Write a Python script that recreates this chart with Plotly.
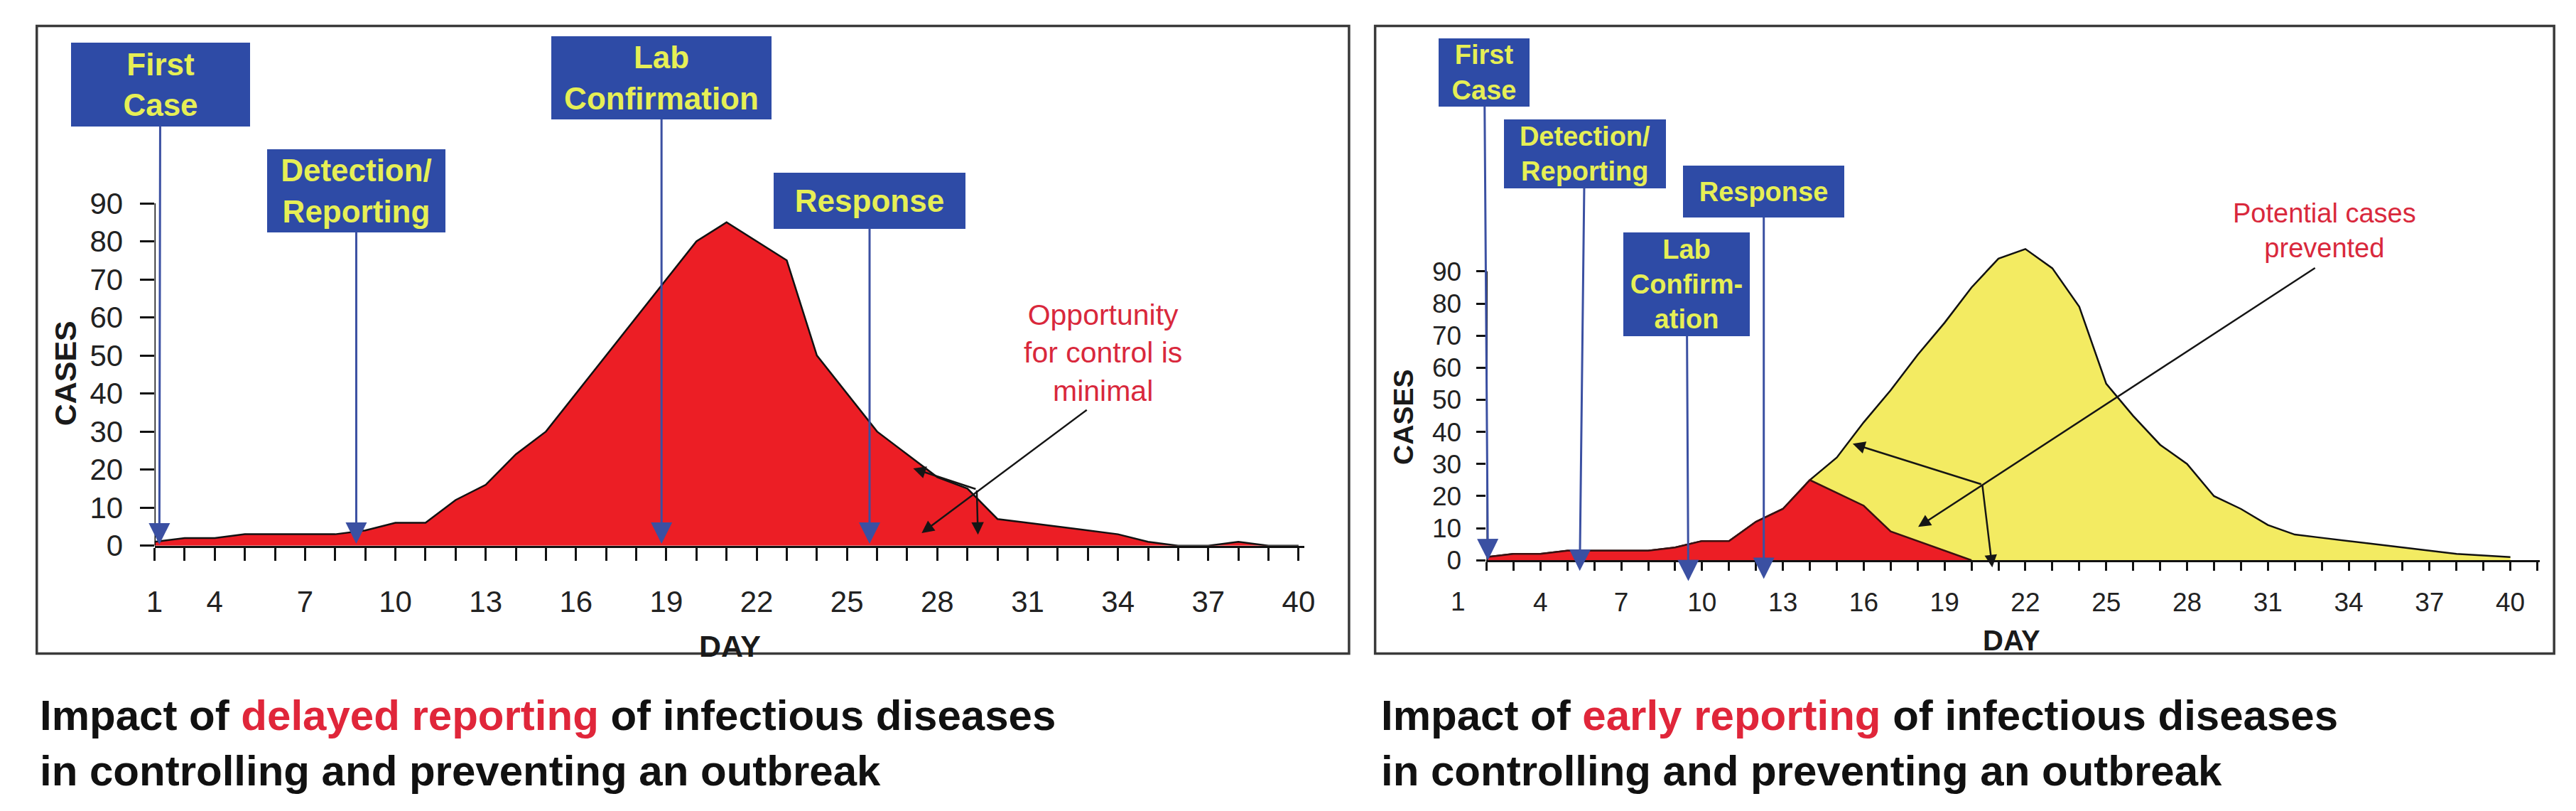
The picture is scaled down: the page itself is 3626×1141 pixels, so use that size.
import plotly.graph_objects as go

# --- data ---
# days start at the y axis (position 2); the left panel prints "1" at the origin
LEFT_DAYS = list(range(2, 41))
LEFT_CASES = [1, 2, 2, 3, 3, 3, 3, 4, 6, 6, 12, 16, 24, 30, 40, 50, 60, 70, 80, 85,
              80, 75, 50, 40, 30, 24, 18, 15, 7, 6, 5, 4, 3, 1, 0, 0, 1, 0, 0]

RIGHT_DAYS = list(range(2, 41))
POTENTIAL_CASES = [1, 2, 2, 3, 3, 3, 3, 4, 6, 6, 12, 16, 25, 32, 43, 53, 64, 74, 85, 94,
                   97, 91, 79, 55, 45, 36, 30, 20, 16, 11, 8, 7, 6, 5, 4, 3, 2, 1.5, 1]
EARLY_DAYS = list(range(2, 21))
EARLY_CASES = [1, 2, 2, 3, 3, 3, 3, 4, 6, 6, 12, 16, 25, 21, 17, 9, 6, 3, 0]

Y_TICKS = list(range(0, 100, 10))
LEFT_TICK_POS = [2] + list(range(4, 41, 3))
RIGHT_TICK_POS = list(range(4, 41, 3))
TICK_LABELS = ["1"] + [str(d) for d in range(4, 41, 3)]

LEFT_EVENTS = ["First<br>Case", "Detection/<br>Reporting", "Lab<br>Confirmation", "Response"]
LEFT_EVENT_DAYS = [2.16, 8.7, 18.84, 25.75]
RIGHT_EVENTS = ["First<br>Case", "Detection/<br>Reporting", "Lab<br>Confirm-<br>ation", "Response"]
RIGHT_EVENT_DAYS = [2.05, 5.46, 9.49, 12.29]

LEFT_NOTE = "Opportunity<br>for control is<br>minimal"
RIGHT_NOTE = "Potential cases<br>prevented"
LEFT_CAPTION = ("Impact of <span style='color:#E0263A'>delayed reporting</span> of infectious diseases"
                "<br>in controlling and preventing an outbreak")
RIGHT_CAPTION = ("Impact of <span style='color:#E0263A'>early reporting</span> of infectious diseases"
                 "<br>in controlling and preventing an outbreak")

# --- styling ---
W, H = 3626, 1141
FONT = "Liberation Sans, Arial, sans-serif"
RED = "#EC1E25"
YELLOW = "#F3EB62"
BOX_BLUE = "#2E4BA6"
BOX_TEXT = "#E6EF55"
ARROW_BLUE = "#3B50A2"
NOTE_RED = "#D9283C"


def px(x):
    return x / W


def py(y):
    return 1 - y / H


fig = go.Figure()

fig.add_trace(go.Scatter(x=LEFT_DAYS, y=LEFT_CASES, mode="lines", fill="tozeroy",
                         fillcolor=RED, line=dict(color="#111", width=2.5),
                         xaxis="x", yaxis="y", hoverinfo="skip"))
fig.add_trace(go.Scatter(x=RIGHT_DAYS, y=POTENTIAL_CASES, mode="lines", fill="tozeroy",
                         fillcolor=YELLOW, line=dict(color="#111", width=2.5),
                         xaxis="x2", yaxis="y2", hoverinfo="skip"))
fig.add_trace(go.Scatter(x=EARLY_DAYS, y=EARLY_CASES, mode="lines", fill="tozeroy",
                         fillcolor=RED, line=dict(color="#3a1010", width=2.5),
                         xaxis="x2", yaxis="y2", hoverinfo="skip"))


def x_axis(domain, rng, anchor, tickvals, ticktext, size, standoff, ticklen):
    return dict(domain=domain, range=rng, anchor=anchor, tickmode="array",
                tickvals=tickvals, ticktext=ticktext,
                ticks="outside", ticklen=ticklen, tickwidth=2.5, tickcolor="#111",
                showline=True, linecolor="#111", linewidth=3, showgrid=False, zeroline=False,
                tickfont=dict(family=FONT, size=size, color="#222"), ticklabelstandoff=standoff,
                fixedrange=True)


def y_axis(domain, rng, anchor, size, standoff, ticklen):
    return dict(domain=domain, range=rng, anchor=anchor, tickmode="array", tickvals=Y_TICKS,
                ticks="outside", ticklen=ticklen, tickwidth=2.5, tickcolor="#111",
                showline=False, showgrid=False, zeroline=False,
                tickfont=dict(family=FONT, size=size, color="#222"), ticklabelstandoff=standoff,
                fixedrange=True)


left_minor = list(range(2, 41))
right_minor = list(range(2, 42))
left_text = [TICK_LABELS[LEFT_TICK_POS.index(d)] if d in LEFT_TICK_POS else "" for d in left_minor]
right_text = [TICK_LABELS[1 + RIGHT_TICK_POS.index(d)] if d in RIGHT_TICK_POS else "" for d in right_minor]

fig.update_layout(
    width=W, height=H, margin=dict(l=0, r=0, t=0, b=0),
    paper_bgcolor="white", plot_bgcolor="rgba(0,0,0,0)", showlegend=False,
    font=dict(family=FONT),
    xaxis=x_axis([px(199), px(1830)], [2, 40.2], "y", left_minor, left_text, 42, 22, 18),
    yaxis=y_axis([py(776), py(38)], [0, 135], "x", 42, 15, 20),
    xaxis2=x_axis([px(2088), px(3582)], [2, 41.1], "y2", right_minor, right_text, 37, 12, 12),
    yaxis2=y_axis([py(797), py(36)], [0, 165], "x2", 37, 14, 13),
)

# panel frames and the short y axis lines
for x0, x1 in [(32, 1893), (1930, 3602)]:
    fig.add_shape(type="rect", xref="paper", yref="paper", x0=px(x0), x1=px(x1),
                  y0=py(931), y1=py(29), line=dict(color="#3a3a3a", width=3.5), layer="below")
for xr, yr in [("x", "y"), ("x2", "y2")]:
    fig.add_shape(type="line", xref=xr, yref=yr, x0=2, x1=2, y0=0, y1=90,
                  line=dict(color="#111", width=3))

# event boxes with blue arrows
left_boxes = [((2.19, 121.3), (252, 118)), ((8.70, 93.3), (251, 117)),
              ((18.84, 122.9), (310, 117)), ((25.75, 90.7), (270, 79))]
right_boxes = [((1.92, 152.0), (128, 96)), ((5.64, 126.7), (228, 97)),
               ((9.43, 85.9), (178, 146)), ((12.29, 114.8), (227, 73))]
left_tips = [0.3, 0.5, 0.5, 0.5]
right_tips = [0.0, -3.3, -6.5, -5.8]

for label, day, (c, s), tip in zip(LEFT_EVENTS, LEFT_EVENT_DAYS, left_boxes, left_tips):
    fig.add_annotation(x=day, y=tip, xref="x", yref="y", ax=c[0], ay=c[1], axref="x", ayref="y",
                       text="<b>%s</b>" % label, showarrow=True, arrowhead=2, arrowsize=2,
                       arrowwidth=3, arrowcolor=ARROW_BLUE, bgcolor=BOX_BLUE, bordercolor=BOX_BLUE,
                       borderwidth=1, borderpad=0, width=s[0] - 2, height=s[1] - 2,
                       font=dict(family=FONT, size=44, color=BOX_TEXT))
for label, day, (c, s), tip in zip(RIGHT_EVENTS, RIGHT_EVENT_DAYS, right_boxes, right_tips):
    fig.add_annotation(x=day, y=tip, xref="x2", yref="y2", ax=c[0], ay=c[1], axref="x2", ayref="y2",
                       text="<b>%s</b>" % label, showarrow=True, arrowhead=2, arrowsize=2,
                       arrowwidth=3, arrowcolor=ARROW_BLUE, bgcolor=BOX_BLUE, bordercolor=BOX_BLUE,
                       borderwidth=1, borderpad=0, width=s[0] - 2, height=s[1] - 2,
                       font=dict(family=FONT, size=38, color=BOX_TEXT))

# black pointer arrows
pointers = [
    ("x", "y", (33.0, 35.9), (27.48, 3.3)), ("x", "y", (29.31, 14.8), (27.2, 20.3)),
    ("x", "y", (29.31, 14.8), (29.35, 2.9)),
    ("x2", "y2", (32.79, 91.3), (18.02, 10.4)), ("x2", "y2", (20.40, 23.6), (15.59, 36.3)),
    ("x2", "y2", (20.40, 23.6), (20.77, -2.2)),
]
for xr, yr, tail, head in pointers:
    fig.add_annotation(x=head[0], y=head[1], xref=xr, yref=yr, ax=tail[0], ay=tail[1],
                       axref=xr, ayref=yr, text="", showarrow=True, arrowhead=2,
                       arrowsize=1.4, arrowwidth=2.5, arrowcolor="#151515")

fig.add_annotation(x=33.5, y=50.7, xref="x", yref="y", text=LEFT_NOTE, showarrow=False,
                   font=dict(family=FONT, size=41, color=NOTE_RED))
fig.add_annotation(x=33.1, y=102.8, xref="x2", yref="y2", text=RIGHT_NOTE, showarrow=False,
                   font=dict(family=FONT, size=38, color=NOTE_RED))

# right panel prints its "1" left of the origin, outside the axis range
fig.add_annotation(x=px(2048), y=py(857), xref="paper", yref="paper", text=TICK_LABELS[0],
                   showarrow=False, xanchor="center", yanchor="middle",
                   font=dict(family=FONT, size=37, color="#222"))

# axis titles
for x, y, txt, size, ang in [(72, 528, "CASES", 43, -90), (1970, 591, "CASES", 39, -90),
                             (1015, 920, "DAY", 43, 0), (2833, 912, "DAY", 40, 0)]:
    fig.add_annotation(x=px(x), y=py(y), xref="paper", yref="paper", text="<b>%s</b>" % txt,
                       showarrow=False, textangle=ang, xanchor="center", yanchor="middle",
                       font=dict(family=FONT, size=size, color="#1a1a1a"))

# captions
for x, txt in [(34, LEFT_CAPTION), (1936, RIGHT_CAPTION)]:
    fig.add_annotation(x=px(x), y=py(1060), xref="paper", yref="paper", text="<b>%s</b>" % txt,
                       showarrow=False, xanchor="left", yanchor="middle", align="left",
                       font=dict(family=FONT, size=60, color="#111"))

fig.write_html("out.html")
